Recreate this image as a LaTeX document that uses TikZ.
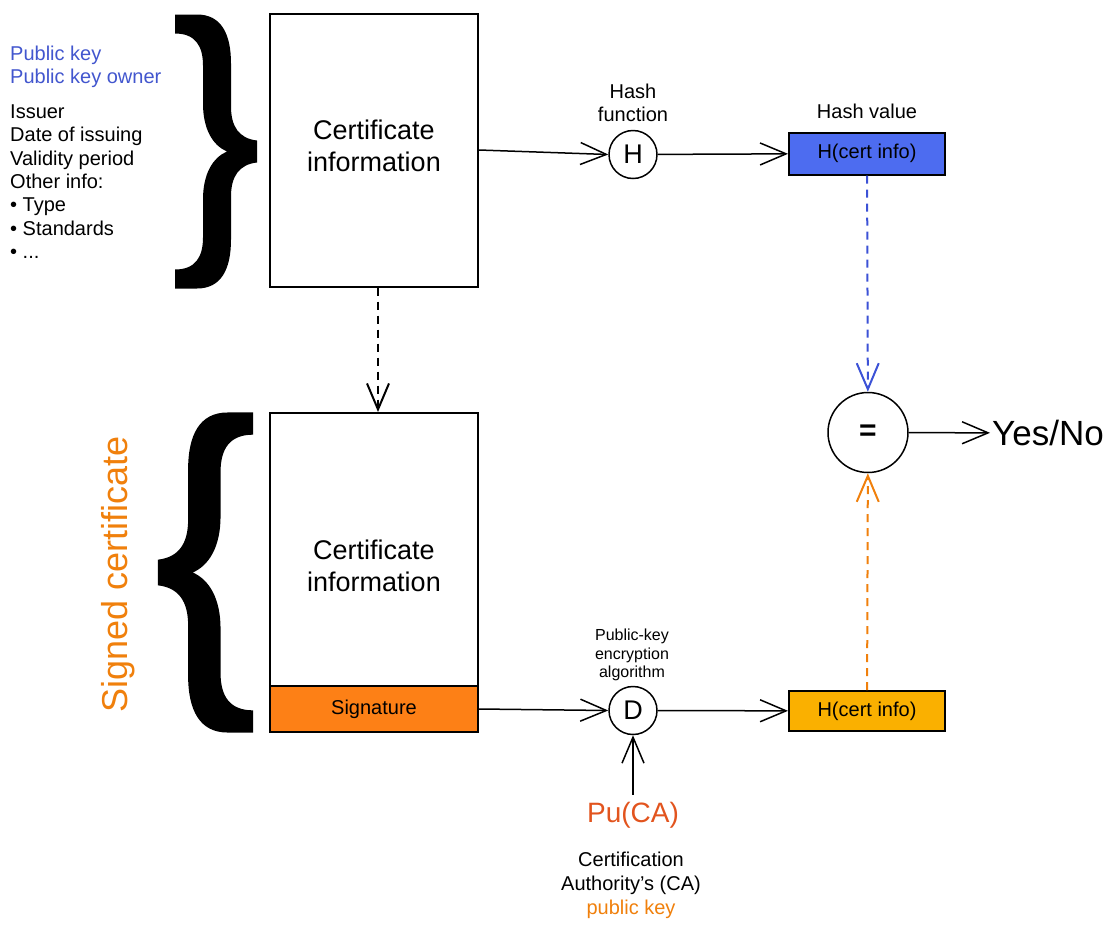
\documentclass[tikz,border=0pt]{standalone}
\usepackage{fontspec}
\setmainfont{Liberation Sans}
\usetikzlibrary{arrows.meta}
\definecolor{keyblue}{RGB}{66,86,206}
\definecolor{hashblue}{RGB}{77,108,240}
\definecolor{lineblue}{RGB}{60,82,214}
\definecolor{signorange}{RGB}{253,128,22}
\definecolor{hashamber}{RGB}{250,176,0}
\definecolor{textorange}{RGB}{240,128,12}
\definecolor{caorange}{RGB}{226,84,30}
\newcommand{\pxfont}[2]{\fontsize{#1}{#2}\selectfont}
\newcommand{\CurlyBrace}{
    \fill[black] (0,-137) -- (22,-137) .. controls (46,-137) and (56,-118) .. (56,-88) -- (56,-45)
        .. controls (56,-25) and (64,-13) .. (82,-11) -- (82,11)
        .. controls (64,13) and (56,25) .. (56,45) -- (56,88)
        .. controls (56,118) and (46,137) .. (22,137) -- (0,137) -- (0,118)
        .. controls (20,118) and (28,106) .. (28,86) -- (28,48)
        .. controls (28,22) and (38,6) .. (52,0)
        .. controls (38,-6) and (28,-22) .. (28,-48) -- (28,-86)
        .. controls (28,-106) and (20,-118) .. (0,-118) -- cycle;
}

\begin{document}
\begin{tikzpicture}[x=1pt, y=-1pt,
    box/.style={draw, line width=2pt, minimum width=208pt, inner sep=0pt, align=center, font=\pxfont{27}{32}},
    hashbox/.style={draw, line width=2pt, minimum width=156pt, minimum height=42pt, font=\pxfont{20}{24}},
    op/.style={circle, draw, line width=1.5pt, minimum size=48pt, inner sep=0pt, font=\pxfont{27}{32}},
    arr/.style={-{Straight Barb[length=26pt, width=22pt]}, line width=1.5pt},
    dashline/.style={dash pattern=on 8pt off 6pt, line width=2pt},
    note/.style={align=center, font=\pxfont{20}{23.3}}]
    \useasboundingbox (0,0) rectangle (1117,930);

    % certificate information and its fields
    \node[box, minimum height=273pt, text depth=9pt] (topbox) at (374,150) {Certificate\\information};
    \node[anchor=north west, inner sep=0pt, align=left, font=\pxfont{20}{23.3}, text=keyblue] (keylist) at (10,45.4) {Public key\\Public key owner};
    \node[anchor=north west, inner sep=0pt, align=left, font=\pxfont{20}{23.3}] (fieldlist) at (10,104.7) {Issuer\\Date of issuing\\Validity period\\Other info:\\• Type\\• Standards\\• ...};
    \begin{scope}[shift={(175,151.5)}]
        \CurlyBrace
    \end{scope}

    % signed certificate
    \node[box, minimum height=319pt, text depth=14pt] (certbox) at (374,572.5) {Certificate\\information};
    \node[box, minimum height=46pt, fill=signorange, font=\pxfont{20}{24}] (sigbox) at (374,709) {Signature};
    \begin{scope}[shift={(253,572.5)}, xscale=-1.159, yscale=1.168]
        \CurlyBrace
    \end{scope}
    \node[rotate=90, text=textorange, font=\pxfont{36}{40}] (signedlabel) at (118,574.5) {Signed certificate};

    % hashing branch
    \node[op] (hashfn) at (633,154.5) {H};
    \node[note] (hashfnlabel) at (633,103) {Hash\\function};
    \node[hashbox, fill=hashblue] (hashval) at (867,153.5) {H(cert info)};
    \node[note] (hashvallabel) at (867,111) {Hash value};

    % decryption branch
    \node[op] (decrypt) at (633,710.5) {D};
    \node[align=center, font=\pxfont{16}{18.5}] (decryptlabel) at (632,655) {Public-key\\encryption\\algorithm};
    \node[hashbox, minimum height=40pt, fill=hashamber] (decval) at (867,711) {H(cert info)};
    \node[text=caorange, font=\pxfont{28}{32}, inner ysep=7pt] (puca) at (633,815) {Pu(CA)};
    \node[note, font=\pxfont{20}{24}] (pucalabel) at (631,885) {Certification\\Authority’s (CA)\\\textcolor{textorange}{public key}};

    % comparison
    \node[op, minimum size=80pt, font=\pxfont{30}{34}\bfseries] (equal) at (868,432.5) {=};
    \node[anchor=west, inner sep=2pt, font=\pxfont{35}{40}] (result) at (990,433) {Yes/No};

    % connectors
    \draw[arr] (topbox.east) -- (hashfn.west);
    \draw[arr] (hashfn) -- (hashval);
    \draw[arr, dashline] ([xshift=4pt]topbox.south) -- ([xshift=4pt]certbox.north);
    \draw[arr] (sigbox.east) -- (decrypt.west);
    \draw[arr] (decrypt) -- (decval);
    \draw[arr] (puca) -- (decrypt);
    \draw[arr, dashline, lineblue] (hashval) -- (equal);
    \draw[arr, dashline, textorange] (decval) -- (equal);
    \draw[arr] (equal) -- (result);
\end{tikzpicture}
\end{document}
